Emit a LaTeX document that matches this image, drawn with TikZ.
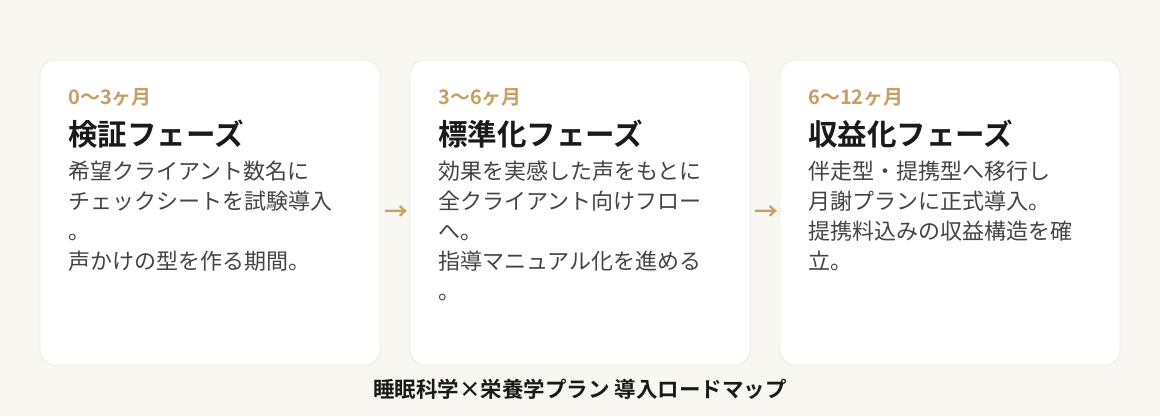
\documentclass[tikz,border=0pt]{standalone}
\usepackage{fontspec}
\setmainfont{Noto Sans CJK JP}[BoldFont={Noto Sans CJK JP Bold}]
\definecolor{bgc}{HTML}{F8F7F2}
\definecolor{cardborder}{HTML}{ECE9E1}
\definecolor{gold}{HTML}{C9A063}
\definecolor{titlec}{HTML}{1A1A1A}
\definecolor{bodyc}{HTML}{444444}
\begin{document}
\begin{tikzpicture}[x=1pt,y=-1pt,
  card/.style={draw=cardborder,line width=0.8pt,fill=white,rounded corners=15pt},
  datelbl/.style={anchor=base west,inner sep=0pt,text=gold,font=\fontsize{20}{22}\selectfont\bfseries},
  phasetitle/.style={anchor=base west,inner sep=0pt,text=titlec,font=\fontsize{29.5}{32}\selectfont\bfseries},
  bodytxt/.style={anchor=base west,inner sep=0pt,text=bodyc,font=\fontsize{22}{30}\selectfont},
  arrowlbl/.style={inner sep=0pt,text=gold,font=\fontsize{24}{26}\selectfont\bfseries},
  captionlbl/.style={inner sep=0pt,text=titlec,font=\fontsize{21.5}{24}\selectfont\bfseries}]
\fill[bgc] (0,0) rectangle (1160,416);
\useasboundingbox (0,0) rectangle (1160,416);
% cards
\draw[card] (40,60) rectangle (380,365);
\draw[card] (410,60) rectangle (750,365);
\draw[card] (780,60) rectangle (1120,365);
% card 1
\node[datelbl] (d1) at (68,104) {0〜3ヶ月};
\node[phasetitle] (t1) at (68,145) {検証フェーズ};
\node[bodytxt] (b1a) at (68,179) {希望クライアント数名に};
\node[bodytxt] (b1b) at (68,209) {チェックシートを試験導入};
\node[bodytxt] (b1c) at (68,239) {。};
\node[bodytxt] (b1d) at (68,269) {声かけの型を作る期間。};
% card 2
\node[datelbl] (d2) at (438,104) {3〜6ヶ月};
\node[phasetitle] (t2) at (438,145) {標準化フェーズ};
\node[bodytxt] (b2a) at (438,179) {効果を実感した声をもとに};
\node[bodytxt] (b2b) at (438,209) {全クライアント向けフロー};
\node[bodytxt] (b2c) at (438,239) {へ。};
\node[bodytxt] (b2d) at (438,269) {指導マニュアル化を進める};
\node[bodytxt] (b2e) at (438,299) {。};
% card 3
\node[datelbl] (d3) at (808,104) {6〜12ヶ月};
\node[phasetitle] (t3) at (808,145) {収益化フェーズ};
\node[bodytxt] (b3a) at (808,179) {伴走型・提携型へ移行し};
\node[bodytxt] (b3b) at (808,209) {月謝プランに正式導入。};
\node[bodytxt] (b3c) at (808,239) {提携料込みの収益構造を確};
\node[bodytxt] (b3d) at (808,269) {立。};
% arrows
\node[arrowlbl] (a1) at (396,213) {→};
\node[arrowlbl] (a2) at (766,213) {→};
% caption
\node[captionlbl] (cap) at (580,389) {睡眠科学×栄養学プラン 導入ロードマップ};
\end{tikzpicture}
\end{document}
